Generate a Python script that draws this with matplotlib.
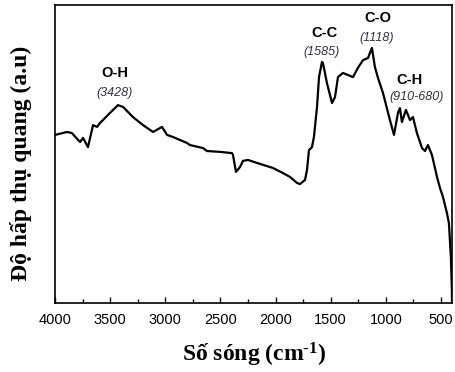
import matplotlib

matplotlib.use("Agg")

import matplotlib.pyplot as plt
from matplotlib.ticker import MultipleLocator

plt.rcParams["mathtext.fontset"] = "custom"
plt.rcParams["mathtext.rm"] = "Liberation Serif:bold"
plt.rcParams["mathtext.bf"] = "Liberation Serif:bold"
plt.rcParams["mathtext.default"] = "rm"

# FTIR spectrum (wavenumber in cm-1, absorbance in a.u.)
wavenumber = [
    4000, 3891, 3846, 3773, 3746, 3701, 3655, 3619, 3592, 3565, 3501, 3429,
    3383, 3293, 3202, 3111, 3030, 2984, 2930, 2803, 2776, 2658, 2622, 2500,
    2395, 2386, 2359, 2323, 2295, 2250, 2168, 2023, 1933, 1869, 1806, 1779,
    1733, 1715, 1697, 1670, 1652, 1624, 1606, 1579, 1570, 1534, 1488, 1461,
    1434, 1389, 1343, 1298, 1253, 1207, 1162, 1126, 1099, 1071, 1026, 963,
    926, 890, 872, 854, 818, 781, 754, 718, 672, 645, 618, 582, 536, 509,
    482, 446, 428, 410, 401, 400,
]
absorbance = [
    0.564, 0.574, 0.570, 0.540, 0.554, 0.523, 0.597, 0.591, 0.604, 0.614,
    0.638, 0.664, 0.658, 0.624, 0.597, 0.574, 0.591, 0.564, 0.557, 0.537,
    0.530, 0.520, 0.510, 0.507, 0.503, 0.497, 0.440, 0.456, 0.477, 0.480,
    0.470, 0.453, 0.436, 0.423, 0.403, 0.399, 0.413, 0.446, 0.513, 0.523,
    0.557, 0.658, 0.758, 0.809, 0.805, 0.738, 0.671, 0.691, 0.758, 0.772,
    0.765, 0.758, 0.789, 0.815, 0.822, 0.856, 0.792, 0.755, 0.705, 0.614,
    0.564, 0.638, 0.654, 0.607, 0.648, 0.614, 0.624, 0.570, 0.520, 0.510,
    0.530, 0.497, 0.423, 0.386, 0.356, 0.302, 0.268, 0.154, 0.044, 0.0,
]

# band labels and where they sit (data coords)
bands = ["O-H", "C-C", "C-O", "C-H"]
band_values = ["(3428)", "(1585)", "(1118)", "(910-680)"]
band_name_xy = [(3456, 0.772), (1552, 0.906), (1071, 0.956), (781, 0.748)]
band_value_xy = [(3456, 0.705), (1579, 0.842), (1080, 0.889), (720, 0.691)]

fig = plt.figure(figsize=(4.56, 3.72), dpi=100)
ax = fig.add_axes([55 / 456, 1 - 303 / 372, 397 / 456, 298 / 372])

ax.plot(wavenumber, absorbance, color="black", linewidth=1.6)

ax.set_xlim(4000, 400)
ax.set_ylim(0, 1)
ax.xaxis.set_major_locator(MultipleLocator(500))
ax.xaxis.set_minor_locator(MultipleLocator(250))
ax.set_yticks([])
ax.tick_params(axis="x", which="major", direction="in", length=4, width=1,
               labelsize=10.5, pad=7)
ax.tick_params(axis="x", which="minor", direction="in", length=3, width=1)
for lab in ax.get_xticklabels():
    lab.set_fontfamily("Liberation Sans")
for spine in ax.spines.values():
    spine.set_linewidth(1.2)

for name, (x, y) in zip(bands, band_name_xy):
    ax.text(x, y, name, ha="center", va="center", fontsize=10.5,
            fontweight="bold", family="Liberation Sans")
for val, (x, y) in zip(band_values, band_value_xy):
    ax.text(x, y, val, ha="center", va="center", fontsize=9,
            style="italic", color="#2e3340", family="Liberation Sans")

fig.text(254 / 456, 1 - 355 / 372, "Số sóng (cm$^{\\text{-1}}$)", ha="center",
         va="center", fontsize=17, fontweight="bold", family="Liberation Serif")
fig.text(21 / 456, 1 - 163 / 372, "Độ hấp thụ quang (a.u)", ha="center",
         va="center", rotation=90, fontsize=17, fontweight="bold",
         family="Liberation Serif")

fig.savefig("out.png", dpi=100)
